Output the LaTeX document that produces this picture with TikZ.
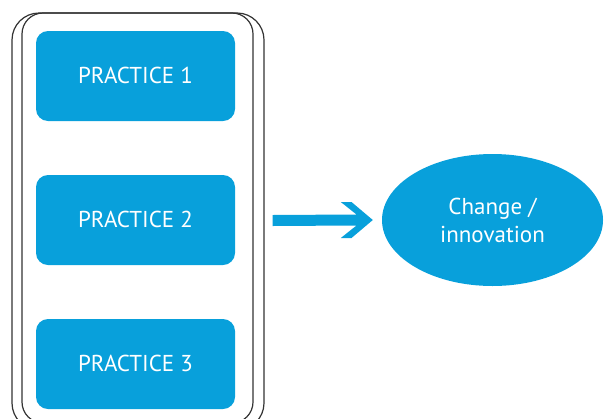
\documentclass[tikz,border=0pt]{standalone}
\usepackage{fontspec}
\setmainfont{PT Sans}
\usetikzlibrary{calc,shapes.geometric}
\definecolor{pblue}{HTML}{08A0DB}
\definecolor{frameline}{HTML}{333333}
\tikzset{
  framebox/.style={draw=frameline, line width=1.2pt, inner sep=0pt},
  practice/.style={fill=pblue, rounded corners=12pt, minimum width=199pt, minimum height=90pt, inner sep=0pt, text=white, font=\fontsize{23}{28}\selectfont},
  outcome/.style={ellipse, fill=pblue, minimum width=221pt, minimum height=132pt, inner sep=0pt, text=white, align=center, font=\fontsize{23}{28}\selectfont},
}
\begin{document}
\begin{tikzpicture}[x=1pt,y=-1pt]
\useasboundingbox (0,0) rectangle (604,418);
\clip (0,0) rectangle (604,418);
\node[framebox, rounded corners=27pt, minimum width=252pt, minimum height=417pt] (frameo) at (138,221.5) {};
\node[framebox, rounded corners=21pt, minimum width=231pt, minimum height=410pt] (framei) at (137.5,218) {};
\node[practice] (p1) at (135.5,76) {\raisebox{2pt}{PRACTICE 1}};
\node[practice] (p2) at (135.5,220) {\raisebox{2pt}{PRACTICE 2}};
\node[practice] (p3) at (135.5,364) {\raisebox{2pt}{PRACTICE 3}};
\node[outcome] (ell) at (492.5,220) {Change /\\innovation};
\coordinate (a1) at ($(frameo.east)+(8,-1)$);
\coordinate (a2) at ($(ell.west)+(-9,0)$);
\fill[pblue] ($(a1)+(0,-5.5)$) -- ($(a2)+(-16.3,-5.5)$) -- ($(a2)+(-32,-18)$) -- ($(a2)+(-21.3,-18)$) -- (a2) -- ($(a2)+(-21.3,18)$) -- ($(a2)+(-32,18)$) -- ($(a2)+(-16.3,5.5)$) -- ($(a1)+(0,5.5)$) -- cycle;
\end{tikzpicture}
\end{document}
